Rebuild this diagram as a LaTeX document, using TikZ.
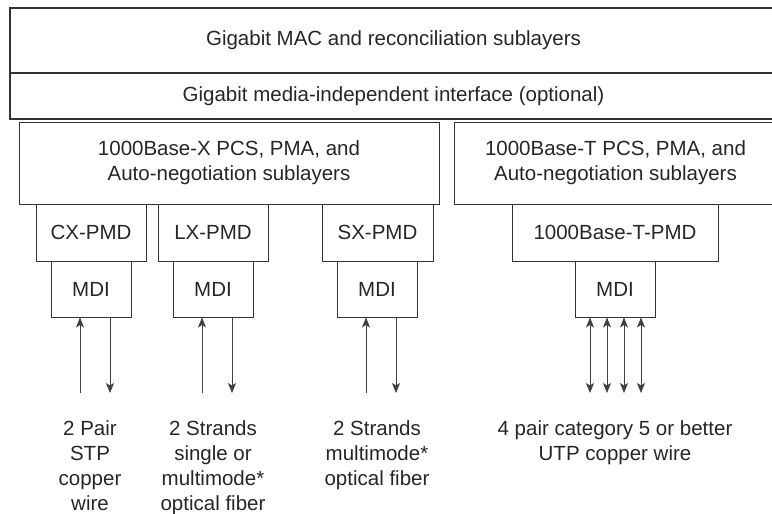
\documentclass[tikz,border=0pt]{standalone}
\usepackage{fontspec}
\setmainfont{Liberation Sans}
\usetikzlibrary{arrows.meta}

\begin{document}
\begin{tikzpicture}
  [x=1pt,y=-1pt,
   every node/.style={font=\fontsize{20.5}{25}\selectfont,text=black!85,align=center,inner sep=0pt},
   layer/.style={draw=black!80,line width=1.2pt},
   sublayer/.style={draw=black!80,line width=0.9pt},
   wire/.style={draw=black!75,line width=0.8pt,-{Stealth[length=10pt,width=8pt,inset=2.5pt]}},
   duplex/.style={draw=black!75,line width=0.8pt,{Stealth[length=10pt,width=8pt,inset=2.5pt]}-{Stealth[length=10pt,width=8pt,inset=2.5pt]}}]
  \useasboundingbox (0,0) rectangle (772,514);
  \node[layer,minimum width=767pt,minimum height=65pt] (mac) at (393.5,40.5) {Gigabit MAC and reconciliation sublayers};
  \node[layer,minimum width=767pt,minimum height=46pt] (gmii) at (393.5,96) {Gigabit media-independent interface (optional)};
  \node[sublayer,minimum width=420pt,minimum height=82pt] (basex) at (229,163) {1000Base-X PCS, PMA, and\\Auto-negotiation sublayers};
  \node[sublayer,minimum width=323pt,minimum height=82pt] (baset) at (615.5,163) {1000Base-T PCS, PMA, and\\Auto-negotiation sublayers};
  \node[sublayer,minimum width=110pt,minimum height=57pt] (cx pmd) at (91,232.5) {CX-PMD};
  \node[sublayer,minimum width=110pt,minimum height=57pt] (lx pmd) at (213,232.5) {LX-PMD};
  \node[sublayer,minimum width=111pt,minimum height=57pt] (sx pmd) at (377.5,232.5) {SX-PMD};
  \node[sublayer,minimum width=206pt,minimum height=57pt] (t pmd) at (615,232.5) {1000Base-T-PMD};
  \node[sublayer,minimum width=80pt,minimum height=56pt] (cx mdi) at (91,289) {MDI};
  \node[sublayer,minimum width=80pt,minimum height=56pt] (lx mdi) at (213,289) {MDI};
  \node[sublayer,minimum width=80pt,minimum height=56pt] (sx mdi) at (377,289) {MDI};
  \node[sublayer,minimum width=80pt,minimum height=56pt] (t mdi) at (615,289) {MDI};
  % media
  \node[anchor=north] (cx media) at (90,420) {2 Pair\\STP\\copper\\wire};
  \node[anchor=north] (lx media) at (213,420) {2 Strands\\single or\\multimode*\\optical fiber};
  \node[anchor=north] (sx media) at (377,420) {2 Strands\\multimode*\\optical fiber};
  \node[anchor=north] (t media) at (615,420) {4 pair category 5 or better\\UTP copper wire};
  % fiber and copper pairs
  \foreach \m/\x in {cx/91,lx/213,sx/377} {
    \coordinate (\m in) at (\x-11,393);
    \coordinate (\m out) at (\x+19,393);
    \draw[wire] (\m in) -- (\m in |- \m\space mdi.south);
    \draw[wire] (\m out |- \m\space mdi.south) -- (\m out);
  }
  \foreach \i/\dx in {1/-25,2/-8,3/9,4/26} {
    \coordinate (t\i) at (615+\dx,393);
    \draw[duplex] (t\i |- t mdi.south) -- (t\i);
  }
\end{tikzpicture}
\end{document}
